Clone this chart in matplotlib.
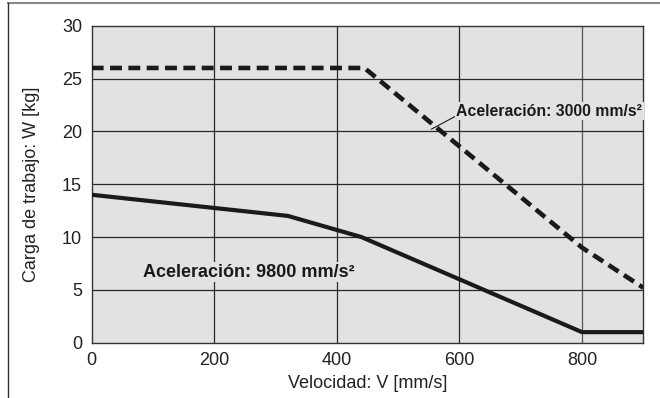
import matplotlib
matplotlib.use("Agg")
import matplotlib.pyplot as plt
from matplotlib.lines import Line2D

plt.rcParams['font.family'] = ['Liberation Sans', 'DejaVu Sans']

# Data
v_3000 = [0, 445, 800, 900]
w_3000 = [26, 26, 9, 5.2]
v_9800 = [0, 320, 440, 800, 900]
w_9800 = [14, 12, 10, 1, 1]
x_ticks = [0, 200, 400, 600, 800]
y_ticks = [0, 5, 10, 15, 20, 25, 30]

W, H = 660, 398
fig = plt.figure(figsize=(W / 100, H / 100), dpi=100)
ax = fig.add_axes([91.7 / W, 1 - 342.7 / H, (643.3 - 91.7) / W, (342.7 - 25.7) / H])
ax.set_facecolor('#e1e2e4')
ax.set_xlim(0, 900)
ax.set_ylim(0, 30)
ax.set_xticks(x_ticks)
ax.set_yticks(y_ticks)
ax.tick_params(length=0, labelsize=13, pad=7, colors='#222222')
for s in ax.spines.values():
    s.set_color('#333333')
    s.set_linewidth(1.0)
for xv in x_ticks[1:]:
    ax.axvline(xv, color='#555555' if xv == 800 else '#2a2a2a', lw=0.9, zorder=1)
for yv in y_ticks[1:-1]:
    ax.axhline(yv, color='#2a2a2a', lw=0.9, zorder=1)

ax.plot(v_9800, w_9800, color='#1a1a1a', lw=3.0, solid_capstyle='butt', zorder=3)
ax.plot(v_3000, w_3000, color='#1a1a1a', lw=3.3, dashes=(2.6, 1.4), dash_capstyle='butt', zorder=3)

ax.annotate('Aceleración: 3000 mm/s²', xy=(554, 20.2), xytext=(595, 21.9),
            fontsize=11.4, fontweight='bold',
            color='#1a1a1a', ha='left', va='center', zorder=4,
            bbox=dict(facecolor='#e1e2e4', edgecolor='none', pad=1),
            arrowprops=dict(arrowstyle='-', color='#1a1a1a', lw=0.8, shrinkA=0, shrinkB=0,
                            relpos=(0, 0.2)))

ax.text(84, 6.65, 'Aceleración: 9800 mm/s²', fontsize=13, fontweight='bold',
        color='#1a1a1a', ha='left', va='center', zorder=4,
        bbox=dict(facecolor='#e1e2e4', edgecolor='none', pad=1))

ax.set_xlabel('Velocidad: V [mm/s]', fontsize=13, color='#222222', labelpad=4)
ax.set_ylabel('Carga de trabajo: W [kg]', fontsize=13, color='#222222', labelpad=16)

# figure frame lines (top and left)
fig.add_artist(Line2D([8 / W, 1], [1 - 3.3 / H, 1 - 3.3 / H], color='#888888', lw=1.5,
                      transform=fig.transFigure))
fig.add_artist(Line2D([8 / W, 8 / W], [0, 1 - 3.3 / H], color='#333333', lw=1.0,
                      transform=fig.transFigure))

fig.savefig('out.png', dpi=100)
